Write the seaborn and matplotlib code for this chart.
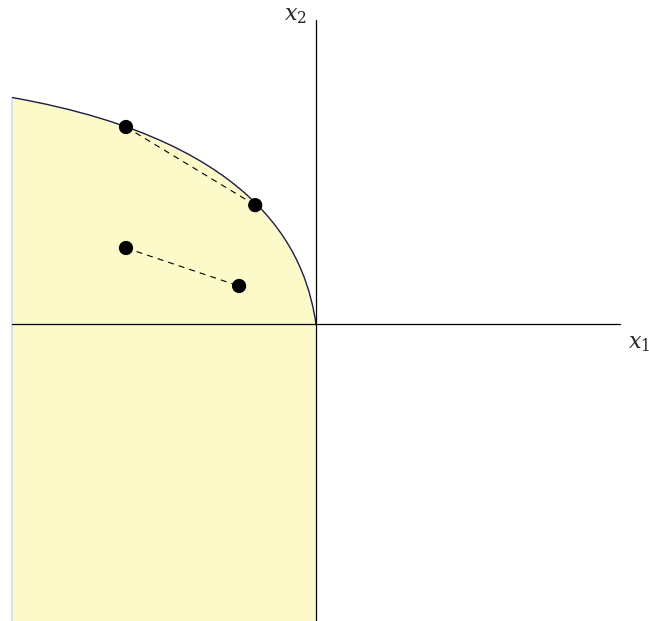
import numpy as np
import pandas as pd
import matplotlib
matplotlib.use("Agg")
import matplotlib.pyplot as plt
from matplotlib.path import Path
from matplotlib.patches import PathPatch
import seaborn as sns

# boundary of the set: cubic Bezier control points (x1, x2)
boundary_x = [-1.0, -0.15, -0.03, 0.0]
boundary_y = [0.745, 0.595, 0.2, 0.0]

# two chords between points of the set
chord_a_x = [-0.625, -0.2]
chord_a_y = [0.648, 0.391]
chord_b_x = [-0.625, -0.253]
chord_b_y = [0.25, 0.125]

axis_min, axis_max = -1.0, 1.0

sns.set_theme(style="white")
plt.rcParams['mathtext.fontset'] = 'dejavuserif'

fig = plt.figure(figsize=(6.49, 6.21), dpi=100)
ax = fig.add_axes([0, 0, 1, 1])

curve_pts = list(zip(boundary_x, boundary_y))
fill_path = Path(
    [(boundary_x[0], axis_min)] + curve_pts + [(boundary_x[-1], axis_min), (0, 0)],
    [Path.MOVETO, Path.LINETO, Path.CURVE4, Path.CURVE4, Path.CURVE4,
     Path.LINETO, Path.CLOSEPOLY],
)
ax.add_patch(PathPatch(fill_path, facecolor="#fdfaca", edgecolor="none", zorder=1))
ax.plot([boundary_x[0], boundary_x[0]], [axis_min, boundary_y[0]],
        color="#d6d6f2", lw=1.2, zorder=2)
curve_path = Path(curve_pts, [Path.MOVETO, Path.CURVE4, Path.CURVE4, Path.CURVE4])
ax.add_patch(PathPatch(curve_path, facecolor="none", edgecolor="#1c1c4a",
                       lw=1.0, zorder=3))

# coordinate axes
ax.plot([axis_min, axis_max], [0, 0], color="black", lw=0.9, zorder=4)
ax.plot([0, 0], [axis_min, axis_max], color="black", lw=0.9, zorder=4)
ax.text(-0.068, 1.012, r"$x_2$", fontsize=16, ha="center", va="center")
ax.text(1.062, -0.066, r"$x_1$", fontsize=16, ha="center", va="center")

for cx, cy in [(chord_a_x, chord_a_y), (chord_b_x, chord_b_y)]:
    df = pd.DataFrame({"x1": cx, "x2": cy})
    sns.lineplot(data=df, x="x1", y="x2", ax=ax, color="black", lw=0.8,
                 linestyle=(0, (5.4, 4.6)), zorder=5)
    sns.scatterplot(data=df, x="x1", y="x2", ax=ax, color="black", s=105,
                    edgecolor="none", zorder=6)

ax.set_xlim(-316 / 304, 333 / 304)
ax.set_ylim(-297 / 304, 324 / 304)
ax.set_axis_off()
fig.savefig("out.png", dpi=100)
